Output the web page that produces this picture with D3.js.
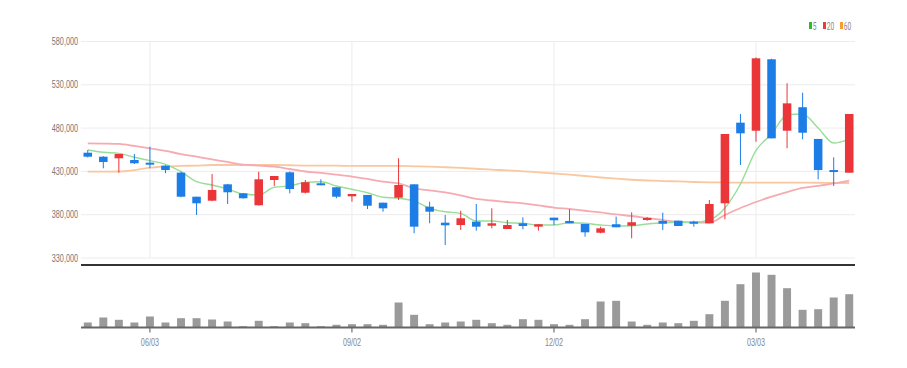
<!DOCTYPE html>
<html>
<head>
<meta charset="utf-8">
<script src="https://cdn.jsdelivr.net/npm/d3@7"></script>
<style>
body { margin: 0; background: #fff; }
svg text { opacity: 0.99; }
</style>
</head>
<body>
<div id="chart"></div>
<script>
// weekly candles
var dates = ["05/06","05/13","05/20","05/27","06/03","06/10","06/17","06/24","07/01","07/08",
	"07/15","07/22","07/29","08/05","08/12","08/19","08/26","09/02","09/09","09/16",
	"09/23","09/30","10/07","10/14","10/21","10/28","11/04","11/11","11/18","11/25",
	"12/02","12/09","12/16","12/23","12/30","01/06","01/13","01/20","01/27","02/03",
	"02/10","02/17","02/24","03/03","03/10","03/17","03/24","03/31","04/07","04/14"];

var opens  = [451000,446400,444550,442600,439500,436000,428000,400200,395600,414500,
	404100,390300,419500,428400,404800,415700,411100,400700,402200,393300,
	399100,414500,388700,370200,367500,371400,366700,362900,369500,365600,
	376000,372200,368700,358600,368400,366700,373300,372200,372500,371400,
	369500,392600,485700,476400,558900,476400,503500,466900,431000,427900];
var highs  = [454100,447000,449500,449500,458000,436500,429100,400200,426400,415000,
	404500,429100,424100,429500,419500,420300,411100,403300,402200,393300,
	444600,414500,394400,379100,384000,391800,386800,373300,376400,368400,
	376000,385700,368700,365600,377200,382200,376500,381800,372500,372500,
	396400,472600,495700,561000,559500,531200,520300,466900,445700,495700];
var lows   = [445500,433000,427900,438000,433000,427300,399500,379100,395000,391800,
	398000,390000,412600,404100,404000,413400,398400,394400,386000,382900,
	396400,358000,369500,344400,361800,361000,363700,362900,362600,361000,
	367500,369500,354000,358000,364900,352200,372500,361800,366400,365600,
	369500,374100,436800,463700,467600,456100,466500,420300,412600,427900];
var closes = [446400,440300,449500,438800,437200,431000,400200,392600,408000,405300,
	398400,420300,424100,409100,416900,413400,400200,403300,389800,386800,
	413700,365600,382900,367200,375300,365600,369500,367500,366400,368400,
	373000,369500,359100,363700,364900,370700,375600,369000,366400,369000,
	391800,472600,473400,560000,467600,508000,474100,431000,428800,495700];

var volumes = [50000,100000,77000,50000,110000,50000,93000,93000,80000,60000,
	13000,67000,13000,50000,43000,13000,27000,33000,33000,27000,
	250000,127000,33000,50000,60000,77000,43000,27000,83000,77000,
	33000,27000,83000,260000,267000,60000,27000,50000,43000,67000,
	133000,267000,433000,550000,527000,393000,177000,183000,300000,333000];

var ma5  = [454100,451500,450300,445700,441800,437600,429100,417500,413700,409100,
	403300,402200,411100,412600,416800,417500,412600,408800,404800,399500,
	398400,395200,386800,382900,381000,372200,372200,370200,369500,367500,
	367500,370200,369500,367500,366400,366700,368700,370200,370700,370700,
	373300,387200,414900,453600,472600,494600,495700,479500,462200,466800];
var ma20 = [461900,461600,461100,458800,456100,453000,449500,446400,443200,440300,
	437200,436200,434900,432200,429300,427600,425600,423500,420700,417500,
	415700,409900,407400,405100,401600,397600,395800,394100,392400,390100,
	387700,386000,384000,382000,379700,377900,375600,373300,371300,370200,
	370200,379100,387200,394100,400400,405600,410300,412600,415500,418900];
var ma60 = [429100,429100,429300,431000,433700,435100,435700,436200,436800,436800,
	436800,436800,436800,436500,436200,436000,436000,435700,435700,435700,
	435700,435300,434900,434200,433400,432500,431400,430700,429500,428400,
	427000,425600,424100,422400,421000,419800,418900,418300,417800,417200,
	416800,416600,416400,416400,416400,416400,416400,416300,416000,416000];

var priceTicks = [330000,380000,430000,480000,530000,580000];
var dateTicks = ["06/03","09/02","12/02","03/03"];
var maNames = ["5","20","60"];

var width = 907;
var height = 368;
var left = 81, right = 855;
var squeeze = 0.66; // labels in the original are very narrow

var upColor = "#ea3539";
var downColor = "#1c7de6";

var svg = d3.select("#chart")
	.append("svg")
	.attr("width", width)
	.attr("height", height)
	.style("font-family", "Roboto, 'Liberation Sans', sans-serif");

var x = d3.scaleBand()
	.domain(dates)
	.range([80, 857])
	.paddingInner(0.45)
	.paddingOuter(0.225);

var y = d3.scaleLinear()
	.domain([330000, 580000])
	.range([257.5, 41]);

var yv = d3.scaleLinear()
	.domain([0, 550000])
	.range([327.5, 272.5]);

function cx(d) { return x(d) + x.bandwidth() / 2; }

// gridlines
svg.append("g")
	.attr("transform", "translate(" + left + ",0)")
	.call(d3.axisLeft(y).tickValues(priceTicks).tickSize(-(right - left)).tickFormat(""))
	.call(function (g) {
		g.select(".domain").remove();
		g.selectAll("line").attr("stroke", "#ececec");
	});

svg.append("g")
	.selectAll("line")
	.data(dateTicks)
	.enter()
	.append("line")
	.attr("x1", function (d) { return cx(d); })
	.attr("x2", function (d) { return cx(d); })
	.attr("y1", y(580000))
	.attr("y2", y(330000))
	.attr("stroke", "#ececec");

// price labels
svg.append("g")
	.attr("transform", "translate(" + (left - 3) + ",0)")
	.call(d3.axisLeft(y).tickValues(priceTicks).tickSize(0).tickPadding(0).tickFormat(d3.format(",")))
	.call(function (g) {
		g.select(".domain").remove();
		g.selectAll("text")
			.attr("x", 0)
			.attr("transform", "scale(" + squeeze + ",1)")
			.style("fill", "#777")
			.style("font-size", "11px");
	});

// moving averages
var lineGen = function (vals) {
	return d3.line()
		.x(function (d, i) { return cx(dates[i]); })
		.y(function (d) { return y(d); })
		.curve(d3.curveMonotoneX)(vals);
};

svg.append("path").attr("d", lineGen(ma60)).attr("fill", "none")
	.attr("stroke", "#f9c8a0").attr("stroke-width", 1.8);
svg.append("path").attr("d", lineGen(ma20)).attr("fill", "none")
	.attr("stroke", "#f6aab2").attr("stroke-width", 1.8);
svg.append("path").attr("d", lineGen(ma5)).attr("fill", "none")
	.attr("stroke", "#98dd98").attr("stroke-width", 1.4);

// candles
var candles = svg.append("g");
for (var i = 0; i < dates.length; i++) {
	var col = closes[i] >= opens[i] ? upColor : downColor;
	candles.append("line")
		.attr("x1", cx(dates[i]))
		.attr("x2", cx(dates[i]))
		.attr("y1", y(highs[i]))
		.attr("y2", y(lows[i]))
		.attr("stroke", col)
		.attr("stroke-width", 1);
	var bodyTop = y(Math.max(opens[i], closes[i]));
	var bodyBot = y(Math.min(opens[i], closes[i]));
	candles.append("rect")
		.attr("x", x(dates[i]))
		.attr("y", bodyTop)
		.attr("width", x.bandwidth())
		.attr("height", Math.max(bodyBot - bodyTop, 2))
		.attr("fill", col);
}

// separator
svg.append("line")
	.attr("x1", left).attr("x2", right)
	.attr("y1", 265).attr("y2", 265)
	.attr("stroke", "#333").attr("stroke-width", 2);

// volume bars
svg.append("g")
	.selectAll("rect")
	.data(volumes)
	.enter()
	.append("rect")
	.attr("x", function (d, i) { return x(dates[i]) + 0.3; })
	.attr("y", function (d) { return yv(d); })
	.attr("width", x.bandwidth() - 0.6)
	.attr("height", function (d) { return yv(0) - yv(d); })
	.attr("fill", "#9a9a9a");

// date axis
svg.append("g")
	.attr("transform", "translate(0,327.5)")
	.call(d3.axisBottom(x).tickValues(dateTicks).tickSize(5).tickPadding(6))
	.call(function (g) {
		g.select(".domain").remove();
		g.selectAll("line").attr("stroke", "#555");
		g.selectAll("text")
			.attr("transform", "scale(" + squeeze + ",1)")
			.style("fill", "#888")
			.style("font-size", "11px");
	});

svg.append("line")
	.attr("x1", left).attr("x2", right)
	.attr("y1", 327.5).attr("y2", 327.5)
	.attr("stroke", "#666").attr("stroke-width", 2);

// legend
var legColors = ["#2cbb2c", "#ec3a3f", "#f99b30"];
var legX = [809, 823, 840];
var leg = svg.append("g");
maNames.forEach(function (n, k) {
	leg.append("rect")
		.attr("x", legX[k]).attr("y", 22)
		.attr("width", 3).attr("height", 7)
		.attr("fill", legColors[k]);
	leg.append("text")
		.attr("transform", "translate(" + (legX[k] + 3.8) + ",29.5) scale(" + squeeze + ",1)")
		.style("fill", "#888")
		.style("font-size", "10px")
		.text(n);
});
</script>
</body>
</html>
